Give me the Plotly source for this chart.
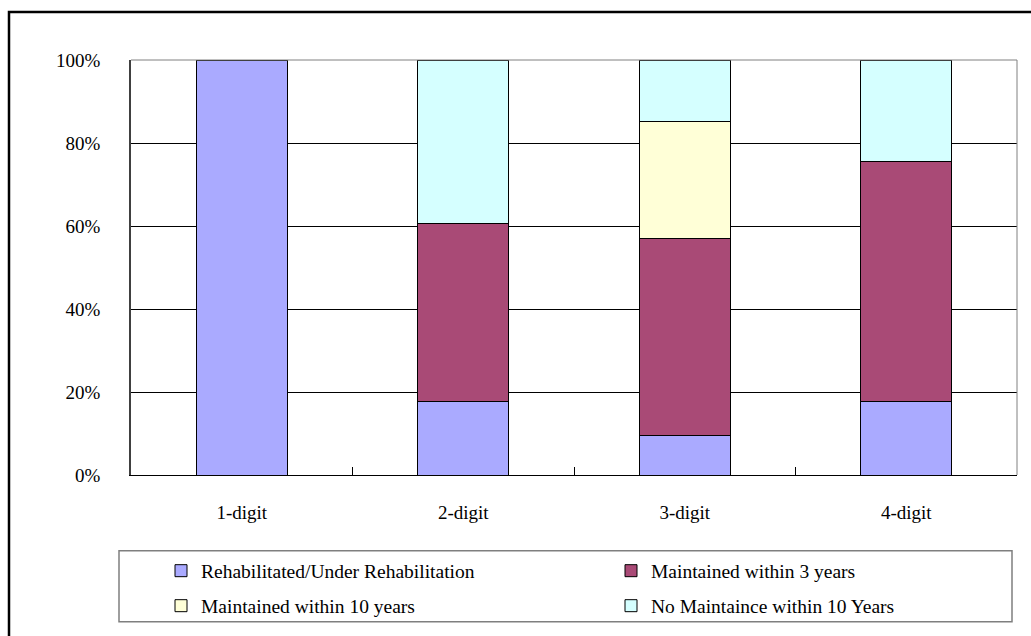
import plotly.graph_objects as go

# Categories and stacked shares (percent of each class)
categories = ["1-digit", "2-digit", "3-digit", "4-digit"]
rehabilitated = [100.0, 17.7, 9.6, 17.7]
maintained_3y = [None, 43.0, 47.3, 57.8]
maintained_10y = [None, None, 28.4, None]
no_maintenance = [None, 39.3, 14.7, 24.5]

series_names = [
    "Rehabilitated/Under Rehabilitation",
    "Maintained within 3 years",
    "Maintained within 10 years",
    "No Maintaince within 10 Years",
]
y_ticks = [0, 20, 40, 60, 80, 100]
y_tick_labels = ["0%", "20%", "40%", "60%", "80%", "100%"]

colors = ["#AAAAFF", "#A94A76", "#FFFFD7", "#D5FFFF"]
series = [rehabilitated, maintained_3y, maintained_10y, no_maintenance]
legend_ids = ["legend", "legend2", "legend3", "legend4"]

# plot-area geometry in pixels (for placing legend / frame in paper units)
W, H = 1031, 636
L, R, T, B = 131, 1017, 60, 476


def px_x(p):
    return (p - L) / (R - L)


def px_y(p):
    return (B - p) / (B - T)


FONT = "Liberation Serif, Times New Roman, serif"

fig = go.Figure()
for name, vals, col, lg in zip(series_names, series, colors, legend_ids):
    fig.add_trace(go.Bar(
        x=categories, y=vals, name=name,
        marker=dict(color=col, line=dict(color="#000000", width=1)),
        legend=lg, showlegend=True,
    ))

# legend entries: col1 = rehab / 10y ; col2 = 3y / none
legend_pos = {
    "legend": (161, 571),
    "legend2": (611, 571),
    "legend3": (161, 606),
    "legend4": (611, 606),
}
legend_layout = {}
for lg, (lx, ly) in legend_pos.items():
    legend_layout[lg] = dict(
        x=px_x(lx), y=px_y(ly), xanchor="left", yanchor="middle",
        bgcolor="rgba(0,0,0,0)", borderwidth=0, visible=True,
        font=dict(family=FONT, size=19.5, color="#000000"),
    )

shapes = [
    # outer chart frame
    dict(type="rect", xref="paper", yref="paper",
         x0=px_x(9), x1=px_x(1045), y0=px_y(650), y1=px_y(12),
         line=dict(color="#000000", width=2.5), fillcolor="rgba(0,0,0,0)",
         layer="above"),
    # legend frame
    dict(type="rect", xref="paper", yref="paper",
         x0=px_x(119), x1=px_x(1012), y0=px_y(623), y1=px_y(552),
         line=dict(color="#7F7F7F", width=1.5), fillcolor="rgba(0,0,0,0)",
         layer="above"),
    # top and right plot-area edges
    dict(type="line", xref="paper", yref="paper", x0=0, x1=1, y0=1, y1=1,
         line=dict(color="#808080", width=1), layer="above"),
    dict(type="line", xref="paper", yref="paper", x0=1, x1=1, y0=0, y1=1,
         line=dict(color="#808080", width=1), layer="above"),
]

fig.update_layout(
    width=W, height=H,
    margin=dict(l=L, r=W - R, t=T, b=H - B),
    barmode="stack",
    bargap=0.59,
    showlegend=True,
    paper_bgcolor="#FFFFFF",
    plot_bgcolor="#FFFFFF",
    font=dict(family=FONT, size=19, color="#000000"),
    hovermode=False,
    shapes=shapes,
    **legend_layout,
)

fig.update_xaxes(
    type="category",
    showgrid=False,
    showline=True, linecolor="#000000", linewidth=1,
    ticks="inside", tickson="boundaries", ticklen=8, tickcolor="#000000",
    ticklabelstandoff=20,
    tickfont=dict(family=FONT, size=19, color="#000000"),
    zeroline=False,
)
fig.update_yaxes(
    range=[0, 100],
    tickmode="array",
    tickvals=y_ticks,
    ticktext=y_tick_labels,
    showgrid=True, gridcolor="#000000", gridwidth=1,
    showline=True, linecolor="#404040", linewidth=1.5,
    ticks="",
    ticklabelstandoff=25,
    tickfont=dict(family=FONT, size=19, color="#000000"),
    zeroline=False,
)

fig.write_html("out.html")
